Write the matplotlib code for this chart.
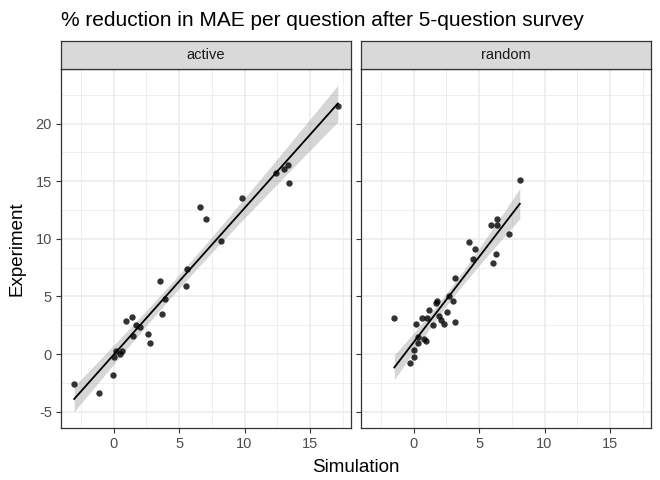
import numpy as np
import matplotlib
matplotlib.use("Agg")
import matplotlib.pyplot as plt

plt.rcParams['font.family'] = ['Liberation Sans', 'DejaVu Sans']

panels = ["active", "random"]

active_sim = [17.13, 13.31, 12.98, 12.40, 13.39, 9.82, 6.62, 7.08, 8.22,
              5.60, 3.56, 5.55, 3.92, 3.69, 1.40, 0.92, 1.68, 2.04, 1.48,
              2.62, 2.80, 0.18, 0.64, 0.46, 0.00, -0.02, -3.02, -1.11]
active_exp = [21.54, 16.38, 16.09, 15.72, 14.85, 13.58, 12.80, 11.68, 9.80,
              7.35, 6.34, 5.94, 4.81, 3.46, 3.23, 2.88, 2.53, 2.36, 1.59,
              1.70, 0.98, 0.23, 0.23, 0.00, -0.23, -1.84, -2.62, -3.37]

random_sim = [8.11, 6.38, 5.93, 6.33, 7.30, 4.20, 4.65, 4.50, 6.26, 6.03,
              3.18, 2.72, 3.02, 1.78, 1.70, -1.48, 1.19, 2.54, 1.91, 0.63,
              1.02, 2.11, 2.29, 3.15, 0.20, 1.45, 0.30, 0.81, 0.96, 0.33,
              0.02, 0.02, -0.26]
random_exp = [15.14, 11.68, 11.16, 11.16, 10.38, 9.69, 9.11, 8.25, 8.71, 7.87,
              6.57, 5.05, 4.64, 4.56, 4.47, 3.09, 3.81, 3.63, 3.26, 3.09,
              3.17, 2.97, 2.65, 2.80, 2.57, 2.54, 1.44, 1.30, 1.15, 0.95,
              0.32, -0.26, -0.81]

x_ticks = [0, 5, 10, 15]
y_ticks = [-5, 0, 5, 10, 15, 20]

title = "% reduction in MAE per question after 5-question survey"
xlabel = "Simulation"
ylabel = "Experiment"

# t quantiles (0.975) for residual degrees of freedom
T975 = {26: 2.056, 31: 2.040}


def lm_band(x, y, n_grid=80):
    x = np.asarray(x, float)
    y = np.asarray(y, float)
    n = len(x)
    b1, b0 = np.polyfit(x, y, 1)
    resid = y - (b0 + b1 * x)
    s = np.sqrt(np.sum(resid ** 2) / (n - 2))
    xm = x.mean()
    sxx = np.sum((x - xm) ** 2)
    xg = np.linspace(x.min(), x.max(), n_grid)
    yg = b0 + b1 * xg
    se = s * np.sqrt(1.0 / n + (xg - xm) ** 2 / sxx)
    t = T975.get(n - 2, 2.05)
    return xg, yg, yg - t * se, yg + t * se


data = {"active": (active_sim, active_exp), "random": (random_sim, random_exp)}
bands = {k: lm_band(*v) for k, v in data.items()}

# shared scales with ggplot 5% expansion
all_x = np.concatenate([np.asarray(active_sim), np.asarray(random_sim)])
xr = (all_x.min(), all_x.max())
xpad = 0.05 * (xr[1] - xr[0])
xlim = (xr[0] - xpad, xr[1] + xpad)
ys = [np.asarray(active_exp), np.asarray(random_exp)]
for b in bands.values():
    ys += [b[2], b[3]]
all_y = np.concatenate(ys)
yr = (all_y.min(), all_y.max())
ypad = 0.05 * (yr[1] - yr[0])
ylim = (yr[0] - ypad, yr[1] + ypad)

W, H = 660, 480
fig = plt.figure(figsize=(6.6, 4.8), dpi=100)

panel_left = [61, 361]
panel_w = 290
panel_top, panel_bot = 69, 428
strip_top = 41

border_col = "#333333"
grid_col = "#ebebeb"

for i, name in enumerate(panels):
    l = panel_left[i]
    ax = fig.add_axes([l / W, 1 - panel_bot / H, panel_w / W, (panel_bot - panel_top) / H])
    ax.set_xlim(xlim)
    ax.set_ylim(ylim)
    # minor grid
    for v in np.arange(-2.5, 20, 5):
        ax.axvline(v, color=grid_col, lw=0.55, zorder=0)
    for v in np.arange(-7.5, 25, 5):
        ax.axhline(v, color=grid_col, lw=0.55, zorder=0)
    for v in x_ticks:
        ax.axvline(v, color=grid_col, lw=1.1, zorder=0)
    for v in y_ticks:
        ax.axhline(v, color=grid_col, lw=1.1, zorder=0)

    xs, yv = data[name]
    xg, yg, lo, hi = bands[name]
    ax.fill_between(xg, lo, hi, color="#999999", alpha=0.4, lw=0, zorder=2)
    ax.scatter(xs, yv, s=21, color="black", alpha=0.8, lw=0, zorder=3)
    ax.plot(xg, yg, color="black", lw=1.3, zorder=4)

    ax.set_xticks(x_ticks)
    ax.set_xticklabels([str(t) for t in x_ticks])
    ax.set_yticks(y_ticks)
    if i == 0:
        ax.set_yticklabels([str(t) for t in y_ticks])
    else:
        ax.set_yticklabels([])
        ax.tick_params(axis="y", length=0)
    ax.tick_params(axis="both", direction="out", length=3.5, width=0.8,
                   color=border_col, labelsize=10.5, labelcolor="#4d4d4d", pad=3)
    for sp in ax.spines.values():
        sp.set_color(border_col)
        sp.set_linewidth(0.9)
    ax.set_axisbelow(True)

    # strip
    sax = fig.add_axes([l / W, 1 - panel_top / H, panel_w / W, (panel_top - strip_top) / H])
    sax.set_xticks([])
    sax.set_yticks([])
    sax.set_facecolor("#d9d9d9")
    for sp in sax.spines.values():
        sp.set_color(border_col)
        sp.set_linewidth(0.9)
    sax.text(0.5, 0.5, name, ha="center", va="center", fontsize=10.5,
             color="#1a1a1a", transform=sax.transAxes)

fig.text(61 / W, 1 - 26 / H, title, ha="left", va="baseline", fontsize=15, color="black")
fig.text((61 + 651) / 2 / W, 1 - 472 / H, xlabel, ha="center", va="baseline",
         fontsize=13.5, color="black")
fig.text(17 / W, 1 - (panel_top + panel_bot) / 2 / H, ylabel, ha="center", va="center",
         rotation=90, fontsize=13.5, color="black")

fig.savefig("out.png", dpi=100, facecolor="white")
